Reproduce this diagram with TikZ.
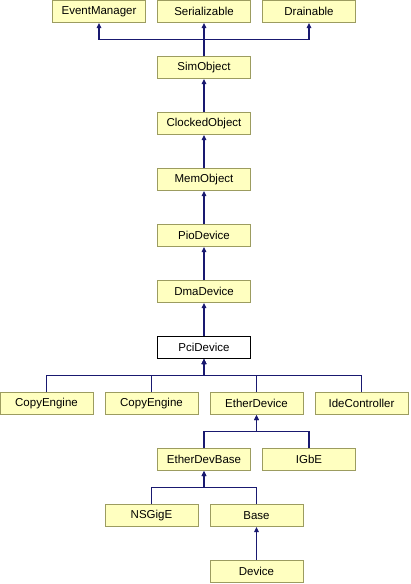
\documentclass[tikz,border=0pt]{standalone}
\usepackage{fontspec}
\setmainfont{Liberation Sans}
\usepackage{xcolor}
\usepackage{tikz}
\usetikzlibrary{arrows.meta,positioning}

\definecolor{clsfill}{HTML}{FFFFC0}
\definecolor{clsline}{HTML}{9C9C60}
\definecolor{inhline}{HTML}{191970}

\begin{document}
\begin{tikzpicture}[
  x=1pt, y=1pt,
  node distance=33pt and 11pt,
  cls/.style={draw=clsline, fill=clsfill, line width=1pt, minimum width=93pt, minimum height=22pt, inner sep=1pt, font=\fontsize{11.5}{13}\selectfont},
  focus/.style={cls, draw=black, fill=white},
  inh/.style={-{Triangle[length=5pt,width=4.5pt]}, draw=inhline, line width=1.2pt}
]
\useasboundingbox (0,0) rectangle (410,-584);
% base classes
\node[cls] (ser) at (204,-11.5) {Serializable};
\node[cls, left=of ser] (evm) {EventManager};
\node[cls, right=of ser] (drn) {Drainable};
% main chain
\node[cls, below=of ser] (sim) {SimObject};
\node[cls, below=of sim] (clk) {ClockedObject};
\node[cls, below=of clk] (mem) {MemObject};
\node[cls, below=of mem] (pio) {PioDevice};
\node[cls, below=of pio] (dma) {DmaDevice};
\node[focus, below=of dma] (pci) {PciDevice};
% derived devices
\node[cls, below=of pci, xshift=-52.5pt] (ce2) {CopyEngine};
\node[cls, left=of ce2] (ce1) {CopyEngine};
\node[cls, right=of ce2] (eth) {EtherDevice};
\node[cls, right=of eth] (ide) {IdeController};
\node[cls, below=of eth, xshift=-52.5pt] (edb) {EtherDevBase};
\node[cls, right=of edb] (igbe) {IGbE};
\node[cls, below=of edb, xshift=-52.5pt] (nsg) {NSGigE};
\node[cls, right=of nsg] (base) {Base};
\node[cls, below=of base] (dev) {Device};
% inheritance
\draw[inh] (sim.north) -- ++(0,16.5) -| (evm.south);
\draw[inh] (sim.north) -- (ser.south);
\draw[inh] (sim.north) -- ++(0,16.5) -| (drn.south);
\draw[inh] (clk) -- (sim);
\draw[inh] (mem) -- (clk);
\draw[inh] (pio) -- (mem);
\draw[inh] (dma) -- (pio);
\draw[inh] (pci) -- (dma);
\draw[inh] (ce1.north) -- ++(0,16.5) -| (pci.south);
\draw[inh] (ce2.north) -- ++(0,16.5) -| (pci.south);
\draw[inh] (eth.north) -- ++(0,16.5) -| (pci.south);
\draw[inh] (ide.north) -- ++(0,16.5) -| (pci.south);
\draw[inh] (edb.north) -- ++(0,16.5) -| (eth.south);
\draw[inh] (igbe.north) -- ++(0,16.5) -| (eth.south);
\draw[inh] (nsg.north) -- ++(0,16.5) -| (edb.south);
\draw[inh] (base.north) -- ++(0,16.5) -| (edb.south);
\draw[inh] (dev) -- (base);
\end{tikzpicture}
\end{document}
